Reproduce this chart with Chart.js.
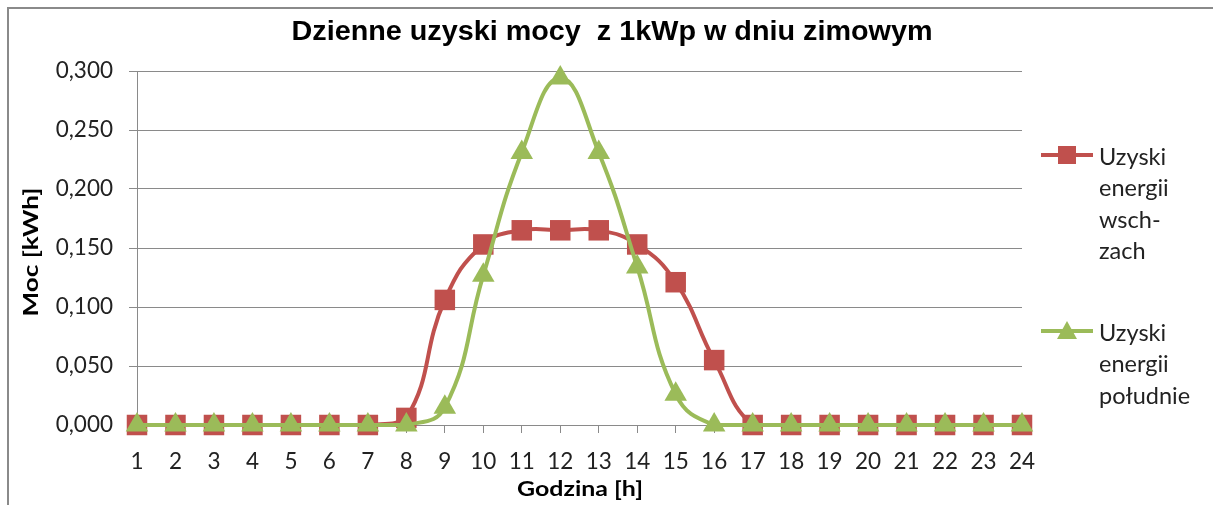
<!DOCTYPE html>
<html>
<head>
<meta charset="utf-8">
<script src="https://cdn.jsdelivr.net/npm/chart.js@4.4.0/dist/chart.umd.min.js"></script>
<style>
html,body{margin:0;padding:0;background:#fff;}
#wrap{width:1213px;height:505px;position:relative;}
</style>
</head>
<body>
<div id="wrap"><canvas id="c" width="1213" height="505"></canvas></div>
<script>
const hours = ['1','2','3','4','5','6','7','8','9','10','11','12','13','14','15','16','17','18','19','20','21','22','23','24'];
const eastWest = [0,0,0,0,0,0,0,0.006,0.106,0.153,0.165,0.165,0.165,0.153,0.121,0.055,0,0,0,0,0,0,0,0];
const south = [0,0,0,0,0,0,0,0,0.015,0.127,0.231,0.294,0.231,0.134,0.026,0,0,0,0,0,0,0,0,0];
const seriesNames = [['Uzyski','energii','wsch-','zach'], ['Uzyski','energii','południe']];
const yTicks = [0,0.05,0.1,0.15,0.2,0.25,0.3];
const titleText = 'Dzienne uzyski mocy  z 1kWp w dniu zimowym';
const xTitle = 'Godzina [h]';
const yTitle = 'Moc [kWh]';

const RED = '#C0504D', GREEN = '#9BBB59';
const FONT = 'Lato, "Open Sans", sans-serif';

function fitText(ctx, text, x, y, width, rot) {
  const w = ctx.measureText(text).width;
  ctx.save();
  ctx.translate(x, y);
  if (rot) ctx.rotate(rot);
  ctx.scale(width / w, 1);
  ctx.fillText(text, 0, 0);
  ctx.restore();
}

const decor = {
  id: 'decor',
  beforeDraw(chart) {
    const ctx = chart.ctx;
    ctx.save();
    ctx.fillStyle = '#fff';
    ctx.fillRect(0,0,chart.width,chart.height);
    ctx.strokeStyle = '#8a8a8a';
    ctx.lineWidth = 2;
    ctx.beginPath();
    ctx.moveTo(8, 520); ctx.lineTo(8, 8); ctx.lineTo(1230, 8);
    ctx.stroke();
    ctx.restore();
  },
  afterDraw(chart) {
    const ctx = chart.ctx;
    ctx.save();
    // title
    ctx.fillStyle = '#000';
    ctx.textAlign = 'center';
    ctx.textBaseline = 'alphabetic';
    ctx.font = 'bold 27px "Liberation Sans Narrow", "Liberation Sans", Arial, sans-serif';
    fitText(ctx, titleText, 612, 40, 641, 0);
    // axis titles
    ctx.font = 'bold 20px ' + FONT;
    ctx.textBaseline = 'middle';
    fitText(ctx, xTitle, 580, 490, 126, 0);
    fitText(ctx, yTitle, 32, 252, 129, -Math.PI/2);
    // legend
    const items = [
      {names: seriesNames[0], color: RED, style: 'rect', y: 155},
      {names: seriesNames[1], color: GREEN, style: 'triangle', y: 331}
    ];
    ctx.font = '23.5px ' + FONT;
    ctx.textAlign = 'left';
    items.forEach(it => {
      ctx.strokeStyle = it.color;
      ctx.lineWidth = 4;
      ctx.beginPath();
      ctx.moveTo(1041, it.y); ctx.lineTo(1093, it.y);
      ctx.stroke();
      ctx.fillStyle = it.color;
      if (it.style === 'rect') {
        ctx.fillRect(1058, it.y - 9, 18, 18);
      } else {
        ctx.beginPath();
        ctx.moveTo(1067, it.y - 10);
        ctx.lineTo(1077, it.y + 8);
        ctx.lineTo(1057, it.y + 8);
        ctx.closePath();
        ctx.fill();
      }
      ctx.fillStyle = '#222';
      it.names.forEach((n, i) => ctx.fillText(n, 1099, it.y + 2 + i * 31.5));
    });
    ctx.restore();
  }
};

new Chart(document.getElementById('c'), {
  type: 'line',
  data: {
    labels: hours,
    datasets: [
      {label: seriesNames[0].join(' '), data: eastWest, borderColor: RED, backgroundColor: RED,
       borderWidth: 4, pointStyle: 'rect', pointRadius: 14.5, pointHoverRadius: 14.5, pointBorderWidth: 0,
       tension: 0.45, order: 1, clip: false},
      {label: seriesNames[1].join(' '), data: south, borderColor: GREEN, backgroundColor: GREEN,
       borderWidth: 4, pointStyle: 'triangle', pointRadius: 13, pointHoverRadius: 13, pointBorderWidth: 0,
       tension: 0.45, order: 0, clip: false}
    ]
  },
  options: {
    responsive: false,
    animation: false,
    events: [],
    layout: {padding: {left: 0, top: 71, right: 191, bottom: 0}},
    plugins: {legend: {display: false}, title: {display: false}, tooltip: {enabled: false}},
    scales: {
      x: {
        offset: false,
        grid: {display: true, drawOnChartArea: false, drawTicks: true, tickLength: 8, color: '#8a8a8a', offset: false},
        border: {display: true, color: '#8a8a8a'},
        ticks: {color: '#222', font: {family: FONT, size: 22.5}, padding: 15, maxRotation: 0, autoSkip: false},
        afterFit(s) { s.height = 80; }
      },
      y: {
        min: 0, max: 0.3,
        afterBuildTicks(s) { s.ticks = yTicks.map(v => ({value: v})); },
        grid: {color: '#8a8a8a', tickLength: 8, drawTicks: true},
        border: {display: true, color: '#8a8a8a'},
        ticks: {color: '#222', font: {family: FONT, size: 22.5}, padding: 16,
          callback: v => v.toFixed(3).replace('.', ',')},
        afterFit(s) { s.width = 137; }
      }
    }
  },
  plugins: [decor]
});
</script>
</body>
</html>
